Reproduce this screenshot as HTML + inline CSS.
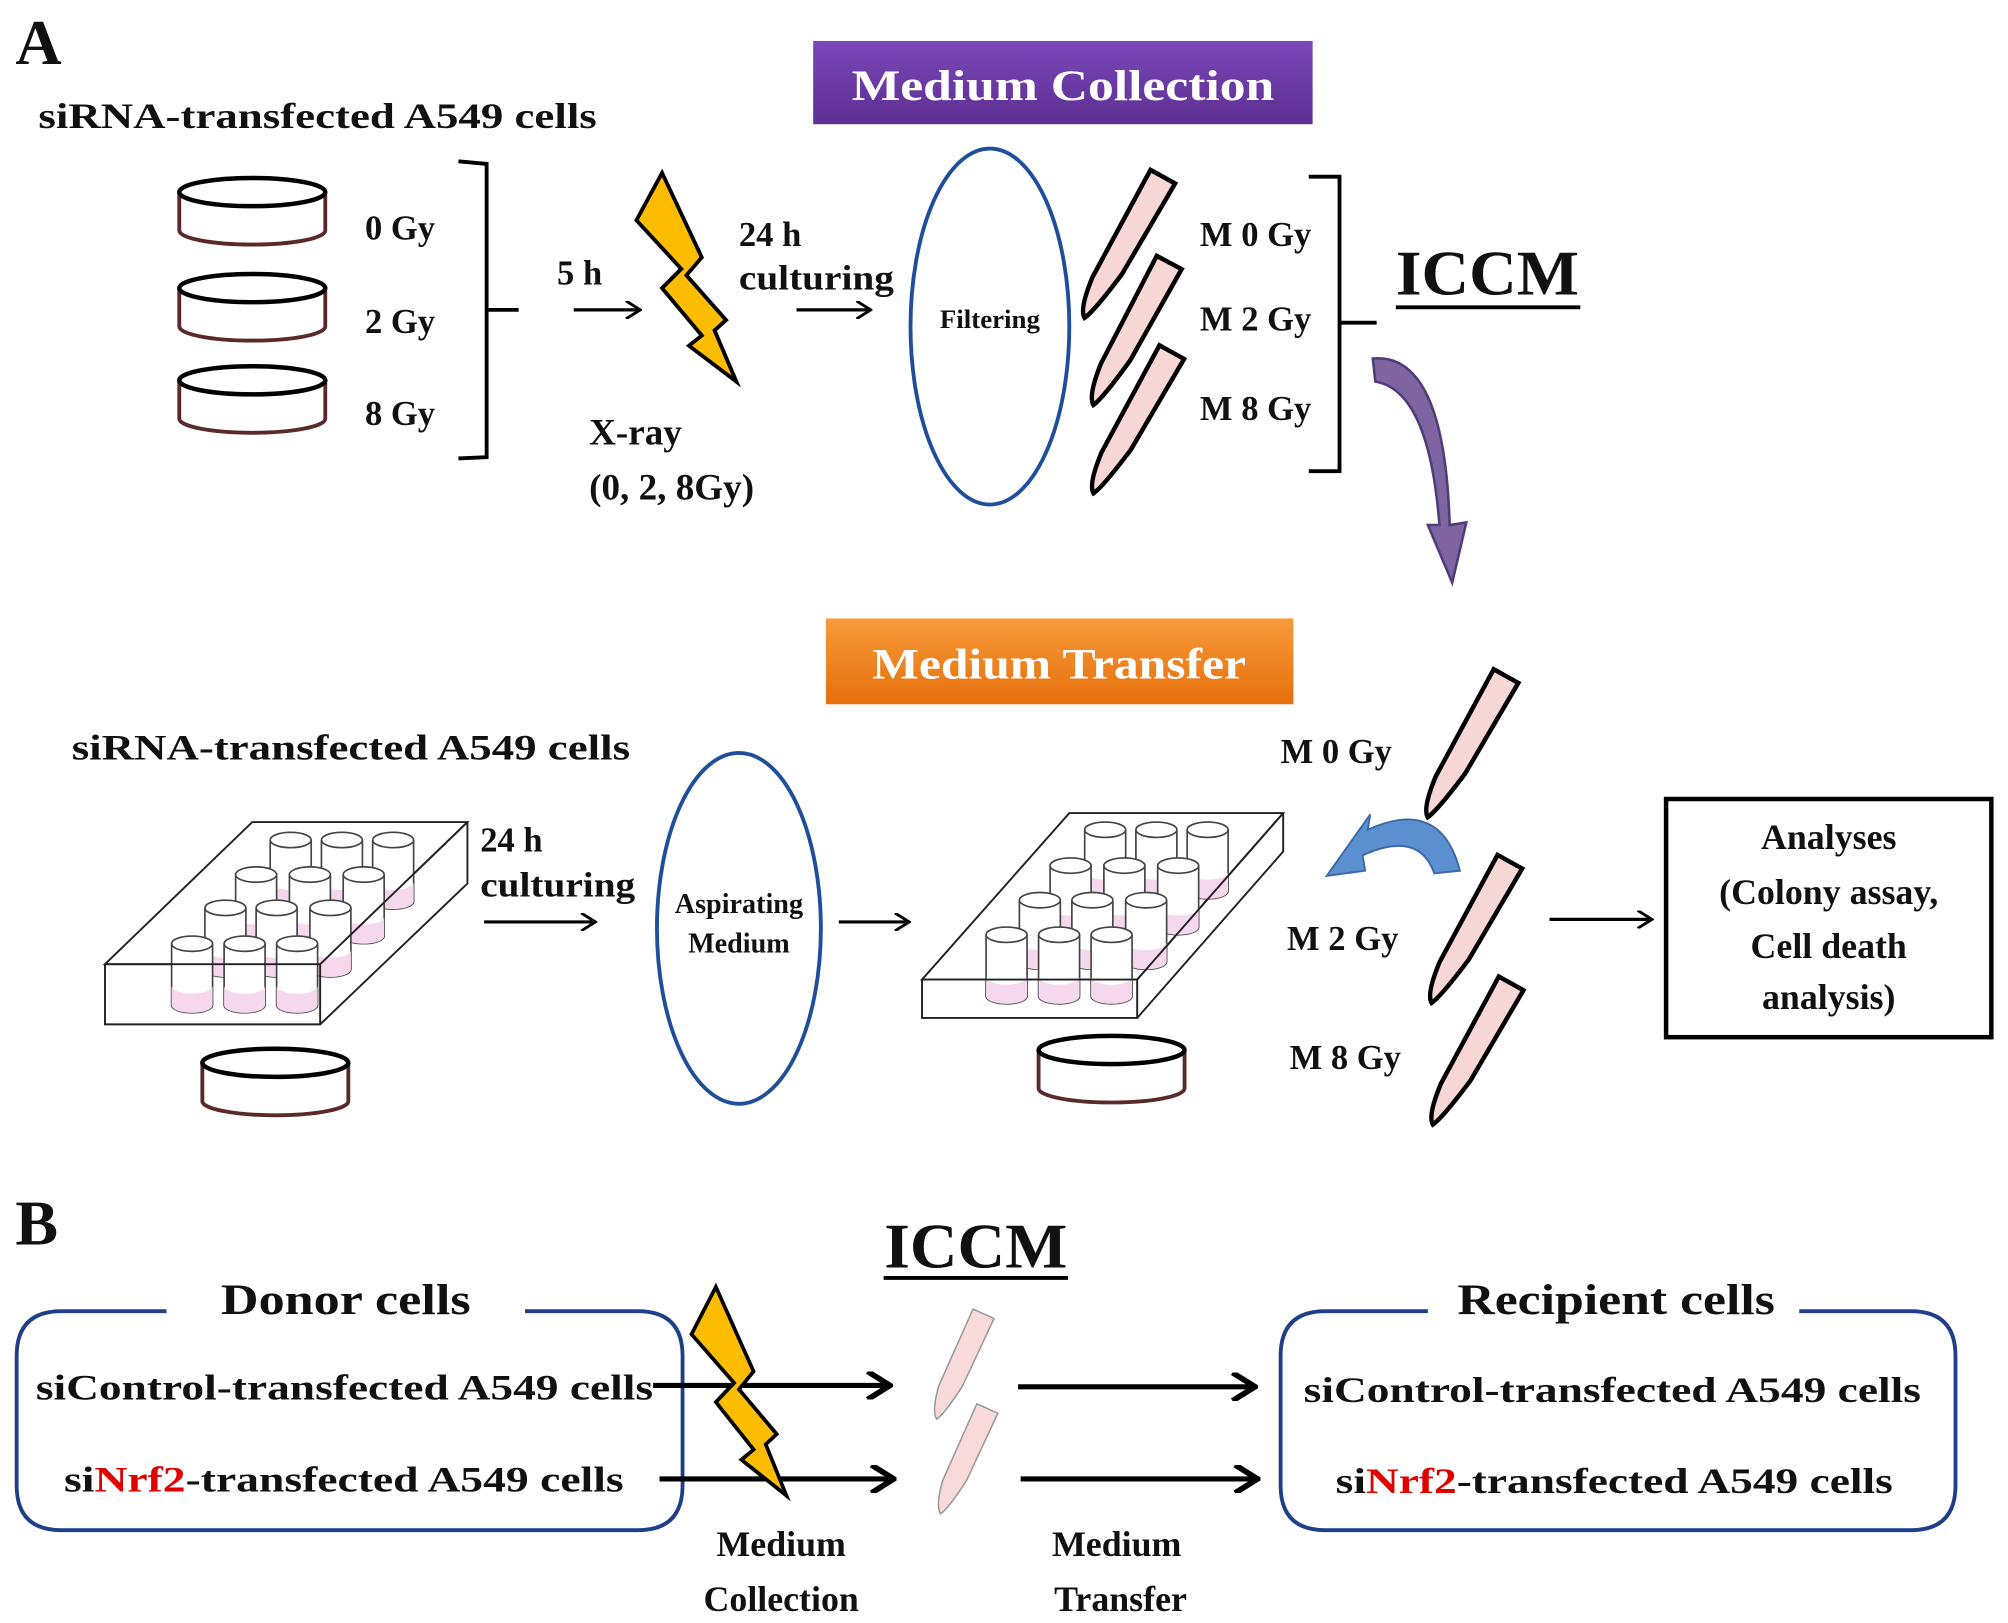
<!DOCTYPE html>
<html><head><meta charset="utf-8"><style>
html,body{margin:0;padding:0;background:#fff;}
svg{display:block;}
text{font-family:"Liberation Serif",serif;font-weight:bold;fill:#111;}
</style></head><body>
<svg width="2008" height="1623" viewBox="0 0 1568 1267.5" preserveAspectRatio="none" xmlns="http://www.w3.org/2000/svg">
<defs>
<linearGradient id="pg" x1="0" y1="0" x2="0" y2="1"><stop offset="0" stop-color="#7a48b8"/><stop offset="1" stop-color="#5c2f92"/></linearGradient>
<linearGradient id="og" x1="0" y1="0" x2="0" y2="1"><stop offset="0" stop-color="#f89a3a"/><stop offset="1" stop-color="#e56f0c"/></linearGradient>
<marker id="ah" viewBox="0 0 10 10" refX="9" refY="5" markerWidth="14" markerHeight="14" orient="auto" markerUnits="userSpaceOnUse"><path d="M1,0 L9,5 L1,10" fill="none" stroke="#000" stroke-width="1.6"/></marker>
<marker id="ah2" viewBox="0 0 10 10" refX="9" refY="5" markerWidth="22" markerHeight="22" orient="auto" markerUnits="userSpaceOnUse"><path d="M1,0 L9,5 L1,10" fill="none" stroke="#000" stroke-width="2"/></marker>
<g id="tube"><path d="M-11,0 L11,0 L9,82 Q4,118 0,126 Q-7,122 -10,95 Z" fill="#f7d6d6" stroke="#000" stroke-width="3.5"/></g>
<g id="tubeS"><path d="M-9,0 L9,0 L8,58 Q4,84 0,90 Q-6,86 -9,66 Z" fill="#f8dada" stroke="#999" stroke-width="1.2"/></g>
<g id="dish"><path d="M-57,0 L-57,30 A57,11 0 0 0 57,30 L57,0" fill="#fff" stroke="#5a2a2a" stroke-width="3"/><ellipse cx="0" cy="0" rx="57" ry="11" fill="#fff" stroke="#000" stroke-width="3.5"/></g>
<g id="cyl"><path d="M-16,0 L-16,48 A16,6 0 0 0 16,48 L16,0" fill="#fff" stroke="#444" stroke-width="1.3"/><path d="M-16,33 L-16,48 A16,6 0 0 0 16,48 L16,33 A16,6 0 0 1 -16,33Z" fill="#f6d8ee"/><ellipse cx="0" cy="0" rx="16" ry="6" fill="#fff" stroke="#444" stroke-width="1.3"/></g>
<g id="bolt"><path d="M20,0 L0,37 L35,75 L20,90 L51,127 L41,135 L78,163 L61,123 L70,115 L39,80 L51,66 Z" fill="#fcbc00" stroke="#000" stroke-width="3"/></g>
</defs>

<text x="12" y="50" font-size="50">A</text>
<rect x="635" y="32" width="390" height="65" fill="url(#pg)"/>
<text x="830" y="78" font-size="34" style="fill:#fff" text-anchor="middle" textLength="330" lengthAdjust="spacingAndGlyphs">Medium Collection</text>
<text x="30" y="100" font-size="28" textLength="436" lengthAdjust="spacingAndGlyphs">siRNA-transfected  A549 cells</text>

<use href="#dish" x="197" y="150"/>
<use href="#dish" x="197" y="225"/>
<use href="#dish" x="197" y="297"/>
<text x="285" y="187" font-size="27">0 Gy</text>
<text x="285" y="260" font-size="27">2 Gy</text>
<text x="285" y="332" font-size="27">8 Gy</text>
<path d="M358,126 L380,128 L380,357 L358,358 M380,242 L405,242" fill="none" stroke="#000" stroke-width="3"/>
<text x="435" y="222" font-size="27">5 h</text>
<line x1="448" y1="242" x2="500" y2="242" stroke="#000" stroke-width="2.5" marker-end="url(#ah)"/>
<use href="#bolt" x="497" y="135"/>
<text x="577" y="192" font-size="27">24 h</text>
<text x="577" y="226" font-size="27" textLength="121" lengthAdjust="spacingAndGlyphs">culturing</text>
<line x1="622" y1="242" x2="680" y2="242" stroke="#000" stroke-width="2.5" marker-end="url(#ah)"/>
<text x="460" y="347" font-size="29">X-ray</text>
<text x="460" y="390" font-size="29">(0, 2, 8Gy)</text>
<ellipse cx="773" cy="255" rx="62" ry="139" fill="none" stroke="#1f4e9a" stroke-width="3"/>
<text x="773" y="256" font-size="21" text-anchor="middle">Filtering</text>
<use href="#tube" transform="translate(908,138) rotate(29)"/>
<use href="#tube" transform="translate(913,205) rotate(28)"/>
<use href="#tube" transform="translate(915,275) rotate(29)"/>
<text x="937" y="192" font-size="27">M 0 Gy</text>
<text x="937" y="258" font-size="27">M 2 Gy</text>
<text x="937" y="328" font-size="27">M 8 Gy</text>
<path d="M1022,138 L1046,138 L1046,368 L1022,368 M1046,252 L1075,252" fill="none" stroke="#000" stroke-width="3"/>
<text x="1090" y="230" font-size="50" textLength="143" lengthAdjust="spacingAndGlyphs">ICCM</text>
<line x1="1090" y1="240" x2="1234" y2="240" stroke="#000" stroke-width="3"/>
<path d="M1072,280 Q1128,275 1132,410 L1145,408 L1134,455 L1115,410 L1124,410 Q1116,305 1074,298 Z" fill="#8064a2" stroke="#4e3d78" stroke-width="2"/>

<rect x="645" y="483" width="365" height="67" fill="url(#og)"/>
<text x="827" y="530" font-size="34" style="fill:#fff" text-anchor="middle" textLength="292" lengthAdjust="spacingAndGlyphs">Medium Transfer</text>
<text x="56" y="593" font-size="28" textLength="436" lengthAdjust="spacingAndGlyphs">siRNA-transfected  A549 cells</text>

<g stroke="#222" stroke-width="1.5" fill="#fff"><path d="M82,753 L250,753 L365,642 L197,642 Z"/></g>
<use href="#cyl" x="227" y="656"/><use href="#cyl" x="267" y="656"/><use href="#cyl" x="307" y="656"/>
<use href="#cyl" x="200" y="683"/><use href="#cyl" x="242" y="683"/><use href="#cyl" x="284" y="683"/>
<use href="#cyl" x="176" y="709"/><use href="#cyl" x="216" y="709"/><use href="#cyl" x="258" y="709"/>
<use href="#cyl" x="150" y="737"/><use href="#cyl" x="191" y="737"/><use href="#cyl" x="232" y="737"/>
<g stroke="#222" stroke-width="1.5" fill="none"><path d="M82,753 L82,800 L250,800 L250,753 Z M250,800 L365,690 L365,642 M250,753 L365,642"/></g>
<use href="#dish" x="215" y="830"/>
<text x="375" y="665" font-size="27">24 h</text>
<text x="375" y="700" font-size="27" textLength="121" lengthAdjust="spacingAndGlyphs">culturing</text>
<line x1="378" y1="720" x2="465" y2="720" stroke="#000" stroke-width="2.5" marker-end="url(#ah)"/>
<ellipse cx="577" cy="725" rx="64" ry="137" fill="none" stroke="#1f4e9a" stroke-width="3"/>
<text x="577" y="713" font-size="22" text-anchor="middle">Aspirating</text>
<text x="577" y="744" font-size="22" text-anchor="middle">Medium</text>
<line x1="655" y1="720" x2="710" y2="720" stroke="#000" stroke-width="2.5" marker-end="url(#ah)"/>

<g stroke="#222" stroke-width="1.5" fill="#fff"><path d="M720,765 L888,765 L1002,635 L835,635 Z"/></g>
<use href="#cyl" x="863" y="648"/><use href="#cyl" x="903" y="648"/><use href="#cyl" x="943" y="648"/>
<use href="#cyl" x="836" y="676"/><use href="#cyl" x="878" y="676"/><use href="#cyl" x="920" y="676"/>
<use href="#cyl" x="812" y="703"/><use href="#cyl" x="853" y="703"/><use href="#cyl" x="895" y="703"/>
<use href="#cyl" x="786" y="730"/><use href="#cyl" x="827" y="730"/><use href="#cyl" x="868" y="730"/>
<g stroke="#222" stroke-width="1.5" fill="none"><path d="M720,765 L720,795 L888,795 L888,765 Z M888,795 L1002,665 L1002,635 M888,765 L1002,635"/></g>
<use href="#dish" x="868" y="820"/>
<path d="M1140,680 Q1125,622 1068,648 L1070,636 L1036,684 L1066,680 L1064,668 Q1108,648 1120,682 Z" fill="#5b8fd0" stroke="#3a6aa8" stroke-width="1.5"/>
<use href="#tube" transform="translate(1176,528) rotate(29)"/>
<use href="#tube" transform="translate(1179,673) rotate(29)"/>
<use href="#tube" transform="translate(1180,768) rotate(29)"/>
<text x="1000" y="596" font-size="27">M 0 Gy</text>
<text x="1005" y="742" font-size="27">M 2 Gy</text>
<text x="1007" y="835" font-size="27">M 8 Gy</text>
<line x1="1210" y1="718" x2="1290" y2="718" stroke="#000" stroke-width="2.5" marker-end="url(#ah)"/>
<rect x="1301" y="624" width="254" height="186" fill="none" stroke="#000" stroke-width="3.5"/>
<text x="1428" y="663" font-size="28" text-anchor="middle">Analyses</text>
<text x="1428" y="706" font-size="28" text-anchor="middle">(Colony assay,</text>
<text x="1428" y="748" font-size="28" text-anchor="middle">Cell death</text>
<text x="1428" y="788" font-size="28" text-anchor="middle">analysis)</text>

<text x="12" y="972" font-size="50">B</text>
<text x="762" y="990" font-size="50" text-anchor="middle" textLength="143" lengthAdjust="spacingAndGlyphs">ICCM</text>
<line x1="690" y1="998" x2="834" y2="998" stroke="#000" stroke-width="3"/>
<path d="M130,1024 L48,1024 Q13,1024 13,1059 L13,1160 Q13,1195 48,1195 L498,1195 Q533,1195 533,1160 L533,1059 Q533,1024 498,1024 L410,1024" fill="none" stroke="#1f3f8a" stroke-width="3"/>
<text x="270" y="1026" font-size="34" text-anchor="middle" textLength="195" lengthAdjust="spacingAndGlyphs">Donor cells</text>
<text x="28" y="1093" font-size="28" textLength="482" lengthAdjust="spacingAndGlyphs">siControl-transfected  A549 cells</text>
<text x="50" y="1165" font-size="28" textLength="437" lengthAdjust="spacingAndGlyphs">si<tspan style="fill:#e00000">Nrf2</tspan>-transfected  A549 cells</text>
<line x1="510" y1="1082" x2="695" y2="1082" stroke="#000" stroke-width="4" marker-end="url(#ah2)"/>
<line x1="515" y1="1155" x2="698" y2="1155" stroke="#000" stroke-width="4" marker-end="url(#ah2)"/>
<use href="#bolt" transform="translate(540,1005) scale(0.95,1.0)"/>
<use href="#tubeS" transform="translate(768,1026) rotate(24)"/>
<use href="#tubeS" transform="translate(771,1100) rotate(24)"/>
<line x1="795" y1="1083" x2="980" y2="1083" stroke="#000" stroke-width="4" marker-end="url(#ah2)"/>
<line x1="797" y1="1155" x2="982" y2="1155" stroke="#000" stroke-width="4" marker-end="url(#ah2)"/>
<path d="M1115,1024 L1035,1024 Q1000,1024 1000,1059 L1000,1160 Q1000,1195 1035,1195 L1492,1195 Q1527,1195 1527,1160 L1527,1059 Q1527,1024 1492,1024 L1405,1024" fill="none" stroke="#1f3f8a" stroke-width="3"/>
<text x="1262" y="1026" font-size="34" text-anchor="middle" textLength="248" lengthAdjust="spacingAndGlyphs">Recipient cells</text>
<text x="1018" y="1095" font-size="28" textLength="482" lengthAdjust="spacingAndGlyphs">siControl-transfected  A549 cells</text>
<text x="1043" y="1166" font-size="28" textLength="435" lengthAdjust="spacingAndGlyphs">si<tspan style="fill:#e00000">Nrf2</tspan>-transfected  A549 cells</text>
<text x="610" y="1215" font-size="28" text-anchor="middle">Medium</text>
<text x="610" y="1258" font-size="28" text-anchor="middle">Collection</text>
<text x="872" y="1215" font-size="28" text-anchor="middle">Medium</text>
<text x="875" y="1258" font-size="28" text-anchor="middle">Transfer</text>
</svg>
</body></html>
